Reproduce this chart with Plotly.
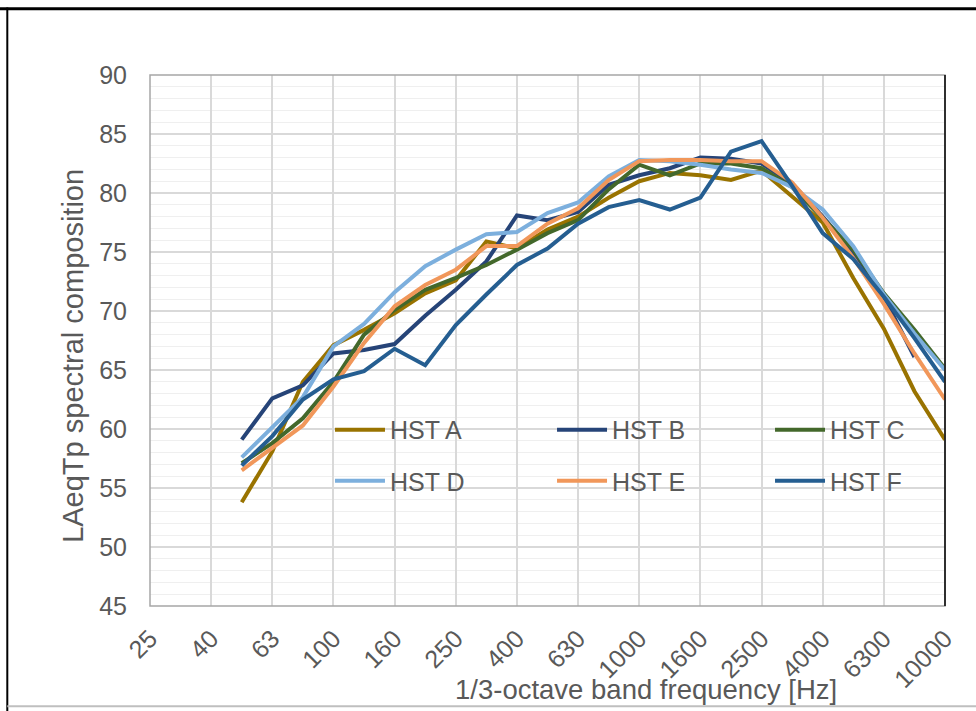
import plotly.graph_objects as go

freqs = ["25", "31.5", "40", "50", "63", "80", "100", "125", "160", "200", "250", "315",
         "400", "500", "630", "800", "1000", "1250", "1600", "2000", "2500", "3150",
         "4000", "5000", "6300", "8000", "10000"]
tick_labels = ["25", "40", "63", "100", "160", "250", "400", "630", "1000", "1600",
               "2500", "4000", "6300", "10000"]

hst_a = [None, None, None, 53.8, 58.1, 64.0, 67.1, 68.4, 69.8, 71.5, 72.6, 75.9, 75.3, 76.9,
         78.0, 79.6, 81.0, 81.7, 81.5, 81.1, 81.9, 79.7, 77.5, 72.8, 68.5, 63.2, 59.1]
hst_b = [None, None, None, 59.1, 62.6, 63.7, 66.4, 66.7, 67.2, 69.6, 71.8, 74.2, 78.1, 77.7,
         78.4, 80.7, 81.5, 82.1, 83.0, 82.9, 82.5, 80.8, 78.0, 75.0, 71.2, 66.1, None]
hst_c = [None, None, None, 57.1, 58.8, 60.9, 64.0, 68.0, 70.1, 71.8, 72.8, 73.9, 75.2, 76.6,
         77.7, 80.3, 82.4, 81.5, 82.5, 82.5, 82.1, 80.5, 77.8, 75.2, 71.5, 68.4, 65.1]
hst_d = [None, None, None, 57.6, 60.2, 62.7, 67.0, 68.9, 71.6, 73.8, 75.2, 76.5, 76.7, 78.3,
         79.2, 81.4, 82.8, 82.7, 82.4, 82.0, 81.7, 80.5, 78.6, 75.5, 71.4, 68.1, 65.0]
hst_e = [None, None, None, 56.5, 58.4, 60.3, 63.6, 67.3, 70.4, 72.2, 73.5, 75.5, 75.5, 77.4,
         78.7, 81.1, 82.7, 82.8, 82.8, 82.7, 82.7, 80.9, 77.9, 74.5, 70.6, 66.4, 62.5]
hst_f = [None, None, None, 56.9, 59.4, 62.5, 64.2, 64.9, 66.8, 65.4, 68.8, 71.4, 73.9, 75.3,
         77.4, 78.8, 79.4, 78.6, 79.6, 83.5, 84.4, 80.6, 76.6, 74.4, 71.2, 67.7, 64.0]

names = ["HST A", "HST B", "HST C", "HST D", "HST E", "HST F"]
values = [hst_a, hst_b, hst_c, hst_d, hst_e, hst_f]
colors = ["#997300", "#264478", "#43682B", "#7CAFDD", "#F1975A", "#255E91"]

FONT = "Liberation Sans, Arial, sans-serif"
GRAY = "#595959"

legend_ids = ["legend", "legend2", "legend3", "legend4", "legend5", "legend6"]
legend_pos = [(0.2264, 0.3315), (0.5057, 0.3315), (0.7799, 0.3315),
              (0.2264, 0.2354), (0.5057, 0.2354), (0.7799, 0.2354)]

fig = go.Figure()
for name, vals, col, lg in zip(names, values, colors, legend_ids):
    fig.add_trace(go.Scatter(x=freqs, y=vals, mode="lines", name=name,
                             line=dict(color=col, width=4), legend=lg,
                             showlegend=True, connectgaps=False))

legends = {}
for lg, (lx, ly) in zip(legend_ids, legend_pos):
    legends[lg] = dict(x=lx, y=ly, xanchor="left", yanchor="middle", orientation="v",
                       bgcolor="rgba(0,0,0,0)", borderwidth=0, visible=True,
                       font=dict(family=FONT, size=25, color=GRAY), itemwidth=50)

fig.update_layout(
    width=976, height=711,
    showlegend=True,
    margin=dict(l=150, r=31, t=75, b=105),
    paper_bgcolor="white", plot_bgcolor="white",
    font=dict(family=FONT, color=GRAY),
    xaxis=dict(type="category", categoryorder="array", categoryarray=freqs,
               range=[0, len(freqs) - 1], tickmode="array", tickvals=tick_labels,
               ticktext=tick_labels, tickangle=-45, tickfont=dict(size=25, color=GRAY),
               showgrid=True, gridcolor="#D9D9D9", gridwidth=1.5, zeroline=False,
               showline=False, ticks="", ticklabelstandoff=12),
    yaxis=dict(range=[45, 90], dtick=5, tickfont=dict(size=25, color=GRAY),
               showgrid=True, gridcolor="#D9D9D9", gridwidth=1.5, zeroline=False,
               minor=dict(dtick=1, showgrid=True, gridcolor="#EFEFEF", gridwidth=1),
               ticks="", ticklabelstandoff=22),
    annotations=[
        dict(text="1/3-octave band frequency [Hz]", xref="paper", yref="paper",
             x=0.624, y=-0.158, showarrow=False, xanchor="center", yanchor="middle",
             font=dict(family=FONT, size=27.5, color=GRAY)),
        dict(text="LAeqTp spectral composition", xref="paper", yref="paper",
             x=-0.0969, y=0.471, showarrow=False, xanchor="center", yanchor="middle",
             textangle=-90, font=dict(family=FONT, size=29, color=GRAY)),
    ],
    shapes=[
        dict(type="rect", xref="paper", yref="paper", x0=0, x1=1, y0=0, y1=1,
             line=dict(color="#A6A6A6", width=1.5), layer="above"),
        dict(type="line", xref="paper", yref="paper", x0=1, x1=1, y0=0, y1=1,
             line=dict(color="#000000", width=1.5), layer="above"),
        # outer frame
        dict(type="line", xref="paper", yref="paper", x0=-0.2, x1=1.05, y0=1.125, y1=1.125,
             line=dict(color="#000000", width=3)),
        dict(type="line", xref="paper", yref="paper", x0=-0.1795, x1=-0.1795, y0=-0.2, y1=1.127,
             line=dict(color="#000000", width=2)),
        dict(type="line", xref="paper", yref="paper", x0=-0.1795, x1=1.05, y0=-0.189, y1=-0.189,
             line=dict(color="#BFBFBF", width=2)),
    ],
)
fig.update_layout(**legends)

fig.write_html("out.html")
